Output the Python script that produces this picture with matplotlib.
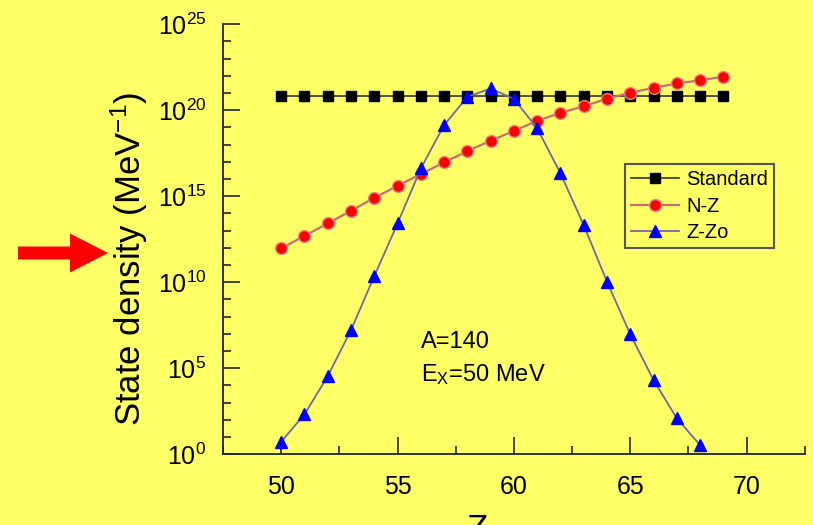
import matplotlib
matplotlib.use("Agg")
import matplotlib.pyplot as plt
import matplotlib.patches as mpatches
from matplotlib.ticker import NullFormatter

plt.rcParams['font.family'] = ['Liberation Sans', 'DejaVu Sans']
plt.rcParams['mathtext.fontset'] = 'custom'
plt.rcParams['mathtext.rm'] = 'Liberation Sans'
plt.rcParams['mathtext.it'] = 'Liberation Sans'
plt.rcParams['mathtext.default'] = 'regular'

bg = '#ffff66'

# data (log10 of state density)
z_std = list(range(50, 70))
log_std = [20.8] * len(z_std)

z_nz = list(range(50, 70))
log_nz = [11.96, 12.69, 13.41, 14.15, 14.90, 15.60, 16.28, 16.96, 17.62, 18.22,
          18.79, 19.38, 19.84, 20.23, 20.66, 21.01, 21.30, 21.55, 21.74, 21.94]

z_zzo = list(range(50, 69))
log_zzo = [0.72, 2.31, 4.53, 7.21, 10.35, 13.41, 16.61, 19.13, 20.77, 21.26,
           20.65, 18.94, 16.32, 13.31, 10.02, 6.96, 4.30, 2.08, 0.52]

x_major = [50, 55, 60, 65, 70]
x_minor = [47.5, 52.5, 57.5, 62.5, 67.5, 72.5]
y_major_exp = [0, 5, 10, 15, 20, 25]

fig = plt.figure(figsize=(8.13, 5.25), dpi=100, facecolor=bg)
ax = fig.add_axes([0.2743, 0.135, 0.7157, 0.819])
ax.set_facecolor(bg)

ax.plot(z_std, [10**v for v in log_std], color='#333333', lw=1.2, marker='s',
        ms=7, mfc='black', mec='black', label='Standard')
ax.plot(z_nz, [10**v for v in log_nz], color='#c07070', lw=1.6, marker='o',
        ms=8.5, mfc='#ff0000', mec='#e88080', mew=1.0, label='N-Z')
ax.plot(z_zzo, [10**v for v in log_zzo], color='#6a6aa8', lw=1.3, marker='^',
        ms=9, mfc='#0000ff', mec='#0000ff', label='Z-Zo')

ax.set_yscale('log')
ax.set_xlim(47.5, 72.5)
ax.set_ylim(1, 1e25)
ax.set_xticks(x_major)
ax.set_xticks(x_minor, minor=True)
ax.set_yticks([10.0**k for k in y_major_exp])
ax.set_yticks([10.0**k for k in range(26) if k % 5], minor=True)
ax.yaxis.set_minor_formatter(NullFormatter())

for s in ['top', 'right']:
    ax.spines[s].set_visible(False)
for s in ['left', 'bottom']:
    ax.spines[s].set_linewidth(1.3)
    ax.spines[s].set_color('#222222')

ax.tick_params(which='both', direction='in', width=1.2, color='#222222')
ax.tick_params(which='major', length=12, labelsize=18)
ax.tick_params(axis='x', which='major', pad=15)
ax.tick_params(axis='y', which='major', pad=12)
ax.tick_params(which='minor', length=6)

ax.set_ylabel('State density (MeV$^{-1}$)', fontsize=25)
ax.yaxis.set_label_coords(-0.125, 0.455)
ax.set_xlabel('Z', fontsize=25)
ax.xaxis.set_label_coords(0.438, -0.137)

ax.text(0.341, 0.247, 'A=140', transform=ax.transAxes, fontsize=17, va='baseline')
ax.text(0.341, 0.170, 'E$_{X}$=50 MeV', transform=ax.transAxes, fontsize=17, va='baseline')

leg = ax.legend(loc='upper left', bbox_to_anchor=(0.7688, 0.6876),
                bbox_transform=fig.transFigure, borderaxespad=0, fontsize=14.5,
                handlelength=2.4, handletextpad=0.35, labelspacing=0.38,
                borderpad=0.3, fancybox=False, framealpha=1, facecolor=bg,
                edgecolor='#555555')
leg.get_frame().set_linewidth(1.5)

# red arrow pointing at the y label
arrow = mpatches.FancyArrow(0.18, 2.72, 0.90, 0, width=0.13, head_width=0.39,
                            head_length=0.38, length_includes_head=True,
                            transform=fig.dpi_scale_trans, color='red', lw=0)
fig.add_artist(arrow)

fig.savefig('out.png', dpi=100, facecolor=bg)
